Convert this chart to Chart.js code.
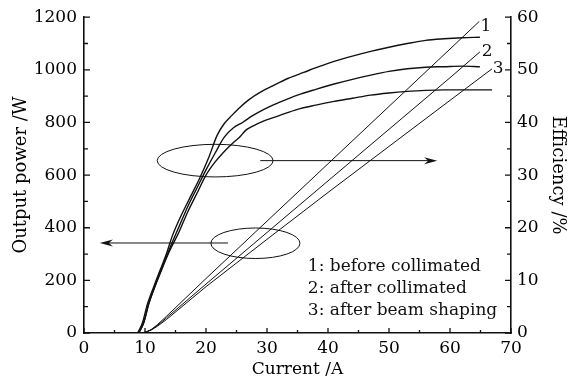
<!DOCTYPE html>
<html><head><meta charset="utf-8">
<script src="https://cdn.jsdelivr.net/npm/chart.js@4"></script>
<style>html,body{margin:0;padding:0;background:#fff}#wrap{width:576px;height:381px;position:relative}</style>
</head><body><div id="wrap"><canvas id="c" width="576" height="381"></canvas></div>
<script>
// ---- tick labels ----
const xTicks = [0, 10, 20, 30, 40, 50, 60, 70];
const powerTicks = [0, 200, 400, 600, 800, 1000, 1200];
const effTicks = [0, 10, 20, 30, 40, 50, 60];
const seriesNames = ['1: before collimated', '2: after collimated', '3: after beam shaping'];
const lineTags = ['1', '2', '3'];

// ---- output power (W) vs current (A) ----
const powerCurrent1 = [9.5, 10.2, 11.0, 12.0, 13.5, 20, 30, 40, 50, 60, 64.8];
const power1 = [0, 4, 13, 31, 63, 207, 425, 643, 861, 1079, 1184];
const powerCurrent2 = [9.5, 10.2, 11.0, 12.0, 13.5, 20, 30, 40, 50, 60, 64.9];
const power2 = [0, 4, 12, 28, 57, 186, 382, 578, 774, 970, 1068];
const powerCurrent3 = [9.5, 10.2, 11.0, 12.0, 13.5, 20, 30, 40, 50, 60, 66.9];
const power3 = [0, 4, 11, 25, 51, 176, 356, 534, 709, 884, 1004];

// ---- efficiency (%) vs current (A) ----
const effCurrent1 = [8.8, 9.6, 10.4, 11.5, 12.5, 13.5, 14.5, 16.0, 17.5, 19.0, 20.5, 21.8, 23.0, 24.2, 25.5, 27.0, 29.0, 31.0, 33.5, 36.0, 38.5, 41.0, 44.0, 47.0, 50.0, 53.0, 56.0, 59.0, 62.0, 64.9];
const eff1 = [0, 2.0, 5.5, 9.0, 12.0, 15.0, 18.5, 22.5, 26.0, 29.5, 33.5, 37.5, 39.8, 41.3, 42.8, 44.3, 45.8, 47.0, 48.4, 49.5, 50.6, 51.6, 52.6, 53.5, 54.3, 55.0, 55.6, 55.9, 56.1, 56.2];
const effCurrent2 = [9.0, 9.8, 10.6, 11.8, 13.0, 14.2, 15.5, 17.0, 18.5, 20.0, 21.5, 23.0, 24.5, 26.0, 27.5, 29.5, 32.0, 35.0, 38.0, 41.0, 44.0, 47.0, 50.0, 53.0, 56.0, 59.0, 62.0, 64.9];
const eff2 = [0, 2.0, 5.5, 9.5, 13.0, 16.5, 20.0, 24.0, 27.5, 31.0, 34.2, 37.2, 39.0, 40.0, 41.2, 42.5, 43.8, 45.2, 46.3, 47.3, 48.2, 49.0, 49.7, 50.2, 50.5, 50.6, 50.7, 50.6];
const effCurrent3 = [9.0, 9.8, 10.6, 11.8, 13.0, 14.2, 15.5, 17.0, 18.5, 20.0, 21.5, 23.0, 24.5, 25.5, 26.5, 27.5, 29.5, 32.0, 35.0, 38.0, 41.0, 44.0, 47.0, 50.0, 53.0, 56.0, 59.0, 62.0, 64.0, 66.9];
const eff3 = [0, 2.0, 5.5, 9.3, 12.8, 16.0, 19.0, 23.0, 26.5, 30.0, 32.5, 34.5, 36.2, 37.2, 38.5, 39.2, 40.3, 41.3, 42.5, 43.3, 44.0, 44.6, 45.2, 45.6, 45.9, 46.1, 46.2, 46.2, 46.2, 46.2];

// ---- annotation geometry (data units) ----
const ellipseTop = {cx: 21.5, cy: 655, rx: 9.5, ry: 62};
const arrowRight = {from: 28.9, to: 57.9, at: 655};
const ellipseBottom = {cx: 28.1, cy: 341, rx: 7.3, ry: 58};
const arrowLeft = {from: 23.6, to: 2.6, at: 342};
const tagPos = [[65.9, 1163], [66.1, 1068], [67.9, 1004]];
const notePos = {x: 36.7, y: [253, 170, 87]};

const FONT = 'DejaVu Serif';
const INK = '#111';

function pts(xs, ys) { return xs.map((v, i) => ({x: v, y: ys[i]})); }

const ds = [];
[[powerCurrent1, power1], [powerCurrent2, power2], [powerCurrent3, power3]].forEach(([a, b], i) => {
  ds.push({label: 'P' + (i + 1), data: pts(a, b), yAxisID: 'y', borderColor: INK, borderWidth: 1, pointRadius: 0, showLine: true, fill: false, tension: 0});
});
[[effCurrent1, eff1], [effCurrent2, eff2], [effCurrent3, eff3]].forEach(([a, b], i) => {
  ds.push({label: 'E' + (i + 1), data: pts(a, b), yAxisID: 'y2', borderColor: INK, borderWidth: 1.4, pointRadius: 0, showLine: true, fill: false, cubicInterpolationMode: 'monotone'});
});

function minors(arr) { const m = []; for (let i = 0; i < arr.length - 1; i++) m.push((arr[i] + arr[i + 1]) / 2); return m; }

function arrow(ctx, x0, y0, x1, y1) {
  const dir = Math.sign(x1 - x0);
  ctx.beginPath(); ctx.moveTo(x0, y0); ctx.lineTo(x1 - dir * 8, y1); ctx.stroke();
  ctx.beginPath();
  ctx.moveTo(x1, y1);
  ctx.lineTo(x1 - dir * 13, y1 - 3.5);
  ctx.lineTo(x1 - dir * 9, y1);
  ctx.lineTo(x1 - dir * 13, y1 + 3.5);
  ctx.closePath(); ctx.fill();
}

const decor = {
  id: 'decor',
  afterDatasetsDraw(chart) {
    const {ctx, scales: {x, y, y2}, chartArea: ca} = chart;
    ctx.save();
    ctx.strokeStyle = INK; ctx.fillStyle = INK; ctx.lineWidth = 1.3;
    // inward tick marks
    ctx.beginPath();
    xTicks.forEach(v => { const p = x.getPixelForValue(v); ctx.moveTo(p, ca.bottom); ctx.lineTo(p, ca.bottom - 5); });
    minors(xTicks).forEach(v => { const p = x.getPixelForValue(v); ctx.moveTo(p, ca.bottom); ctx.lineTo(p, ca.bottom - 3); });
    powerTicks.forEach(v => { const p = y.getPixelForValue(v); ctx.moveTo(ca.left, p); ctx.lineTo(ca.left + 6, p); });
    minors(powerTicks).forEach(v => { const p = y.getPixelForValue(v); ctx.moveTo(ca.left, p); ctx.lineTo(ca.left + 4, p); });
    effTicks.forEach(v => { const p = y2.getPixelForValue(v); ctx.moveTo(ca.right, p); ctx.lineTo(ca.right - 6, p); });
    minors(effTicks).forEach(v => { const p = y2.getPixelForValue(v); ctx.moveTo(ca.right, p); ctx.lineTo(ca.right - 4, p); });
    ctx.stroke();
    // ellipses
    ctx.lineWidth = 1;
    [ellipseTop, ellipseBottom].forEach(e => {
      const cx = x.getPixelForValue(e.cx), cy = y.getPixelForValue(e.cy);
      const rx = Math.abs(x.getPixelForValue(e.cx + e.rx) - cx), ry = Math.abs(y.getPixelForValue(e.cy + e.ry) - cy);
      ctx.beginPath(); ctx.ellipse(cx, cy, rx, ry, 0, 0, Math.PI * 2); ctx.stroke();
    });
    // arrows
    [arrowRight, arrowLeft].forEach(a => {
      const py = y.getPixelForValue(a.at);
      arrow(ctx, x.getPixelForValue(a.from), py, x.getPixelForValue(a.to), py);
    });
    // texts
    ctx.font = '17px "' + FONT + '"';
    ctx.textBaseline = 'middle';
    ctx.textAlign = 'center';
    lineTags.forEach((t, i) => ctx.fillText(t, x.getPixelForValue(tagPos[i][0]), y.getPixelForValue(tagPos[i][1])));
    ctx.textAlign = 'left';
    seriesNames.forEach((t, i) => ctx.fillText(t, x.getPixelForValue(notePos.x), y.getPixelForValue(notePos.y[i])));
    ctx.restore();
  }
};

const tickFont = {family: FONT, size: 17};
const titleFont = {family: FONT, size: 18};

new Chart(document.getElementById('c'), {
  type: 'scatter',
  data: {datasets: ds},
  options: {
    responsive: false, animation: false, devicePixelRatio: 1,
    layout: {padding: {top: 15, left: 0, right: 0, bottom: 0}},
    plugins: {legend: {display: false}, tooltip: {enabled: false}},
    scales: {
      x: {
        type: 'linear', min: 0, max: 70,
        afterBuildTicks: s => { s.ticks = xTicks.map(v => ({value: v})); },
        afterFit: s => { s.height = 48; },
        grid: {display: false, drawTicks: false},
        border: {display: true, color: INK, width: 1.6},
        ticks: {font: tickFont, color: '#000', padding: 5, maxRotation: 0, autoSkip: false, callback: v => String(v)},
        title: {display: true, text: 'Current /A', font: {family: FONT, size: 17}, color: '#000', padding: {top: 0, bottom: 1}}
      },
      y: {
        type: 'linear', position: 'left', min: 0, max: 1200,
        afterBuildTicks: s => { s.ticks = powerTicks.map(v => ({value: v})); },
        afterFit: s => { s.width = 84; },
        grid: {display: false, drawTicks: false},
        border: {display: true, color: INK, width: 1.6},
        ticks: {font: tickFont, color: '#000', padding: 7, autoSkip: false, callback: v => String(v)},
        title: {display: true, text: 'Output power /W', font: titleFont, color: '#000', padding: {top: 11, bottom: 0}}
      },
      y2: {
        type: 'linear', position: 'right', min: 0, max: 60,
        afterBuildTicks: s => { s.ticks = effTicks.map(v => ({value: v})); },
        afterFit: s => { s.width = 65; },
        grid: {display: false, drawTicks: false},
        border: {display: true, color: INK, width: 1.6},
        ticks: {font: tickFont, color: '#000', padding: 6, autoSkip: false, callback: v => String(v)},
        title: {display: true, text: 'Efficiency /%', font: titleFont, color: '#000', padding: {top: 8, bottom: 0}}
      }
    }
  },
  plugins: [decor]
});
</script>
</body></html>
